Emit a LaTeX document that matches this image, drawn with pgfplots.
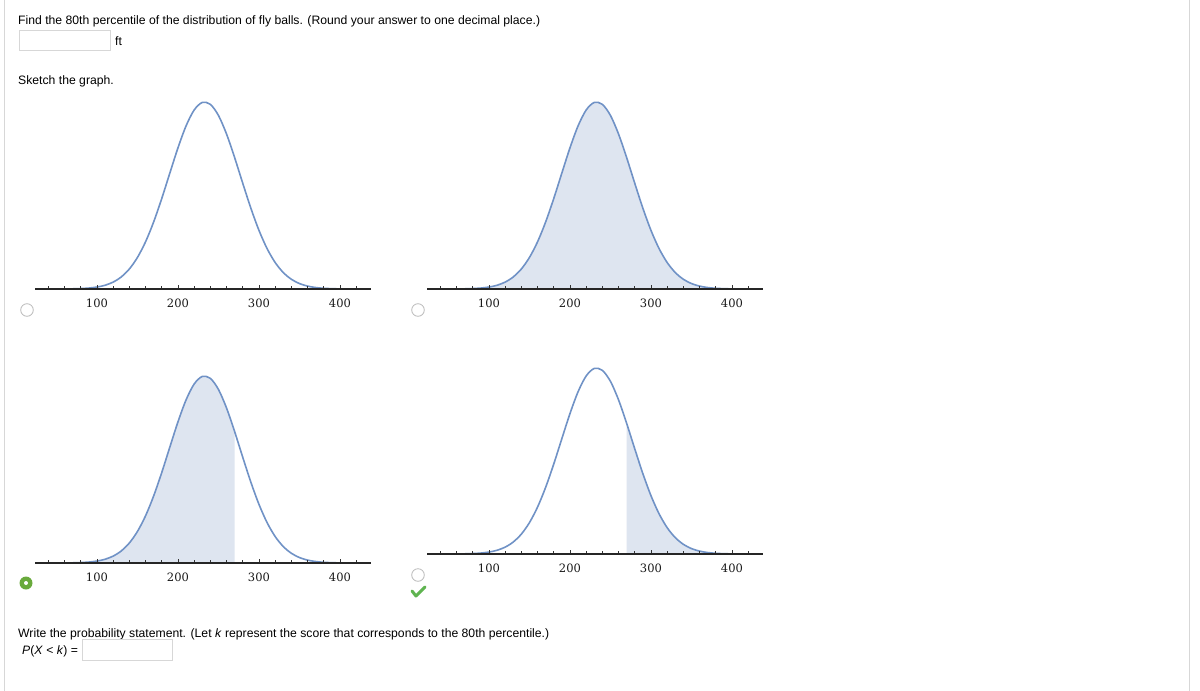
\documentclass[border=0pt]{standalone}
\usepackage{fontspec}
\setmainfont{Liberation Sans}
\newfontfamily\tickfont{DejaVu Serif}
\usepackage{pgfplots}
\usepackage{pgfplotstable}
\pgfplotsset{compat=1.18}
\definecolor{curvec}{RGB}{112,146,198}
\definecolor{fillc}{RGB}{222,229,240}
\definecolor{orangec}{RGB}{200,150,70}
\definecolor{greenc}{RGB}{105,170,60}
\definecolor{checkc}{RGB}{95,180,80}
\definecolor{boxc}{RGB}{215,215,215}
\definecolor{radioc}{RGB}{185,185,185}
\pgfplotstableread{
x y
25 0.00002
30 0.00002
40 0.00007
50 0.00018
60 0.00044
70 0.00105
80 0.00237
90 0.00509
100 0.01038
110 0.02010
120 0.03697
130 0.06457
140 0.10712
150 0.16880
160 0.25256
170 0.35880
180 0.48409
190 0.62035
200 0.75482
210 0.87231
220 0.95729
230 0.99768
240 0.98742
250 0.92808
260 0.82838
270 0.70218
280 0.56524
290 0.43211
300 0.31368
310 0.21627
320 0.14158
330 0.08803
340 0.05197
350 0.02916
360 0.01552
370 0.00785
380 0.00377
390 0.00172
400 0.00074
410 0.00031
420 0.00012
430 0.00004
438 0.00002
}\belldata
\pgfplotsset{bell/.style={
  scale only axis, width=336.15pt, height=187pt,
  xmin=23.5, xmax=438.5, ymin=0, ymax=1,
  axis x line=bottom, axis y line=none, axis on top=true,
  x axis line style={-, line width=1.1pt, color=black!85},
  xtick={100,200,300,400}, minor xtick={40,60,...,420},
  tick align=inside, major tick length=4.5pt, minor tick length=3pt,
  tick style={black!80, line width=0.7pt},
  /pgf/number format/assume math mode=true,
  xticklabel style={font=\tickfont\fontsize{11.5}{12}\selectfont, text=black!90, anchor=base, yshift=-18.3pt},
  clip=false, anchor=south west}}
\begin{document}
\begin{tikzpicture}
\fill[white] (0,0) rectangle (1200pt,-691pt);
\path[use as bounding box] (0,0) rectangle (1200pt,-691pt);
\draw[boxc, line width=1pt] (4.5pt,0) -- (4.5pt,-691pt);
\draw[boxc, line width=1pt] (1189pt,0) -- (1189pt,-691pt);
\begin{scope}[font=\fontsize{12.2}{14}\selectfont]
\node[anchor=base west, inner sep=0] at (18pt,-24.5pt) {Find the 80th percentile of the distribution of fly balls. (Round your answer to one decimal place.)};
\draw[boxc, line width=0.8pt] (19pt,-30pt) rectangle (110pt,-50pt);
\node[anchor=base west, inner sep=0] at (115pt,-45pt) {ft};
\node[anchor=base west, inner sep=0] at (18pt,-84.5pt) {Sketch the graph.};
\node[anchor=base west, inner sep=0] at (18pt,-637.5pt) {Write the probability statement. (Let \textit{k} represent the score that corresponds to the 80th percentile.)};
\node[anchor=base west, inner sep=0] at (22pt,-654.5pt) {\textit{P}(\textit{X} < \textit{k}) =};
\draw[boxc, line width=0.8pt] (82pt,-639pt) rectangle (172pt,-660pt);
\end{scope}
% radio buttons
\draw[radioc, fill=white, line width=0.8pt] (27pt,-310pt) circle (6.3pt);
\draw[radioc, fill=white, line width=0.8pt] (418pt,-310pt) circle (6.3pt);
\fill[greenc] (26pt,-583pt) circle (6.5pt);
\fill[white] (26pt,-583pt) circle (2pt);
\draw[radioc, fill=white, line width=0.8pt] (418pt,-575pt) circle (6.3pt);
\draw[checkc, line width=3pt, line cap=round, line join=round] (412pt,-591pt) -- (416pt,-596pt) -- (425pt,-587pt);
% top-left
\begin{axis}[bell, at={(35pt,-289pt)}]
\addplot[curvec, line width=1.6pt, smooth] table[x=x,y=y]{\belldata};
\end{axis}
% top-right
\begin{axis}[bell, at={(427pt,-289pt)}]
\addplot[draw=none, fill=fillc, smooth] table[x=x,y=y]{\belldata} \closedcycle;
\addplot[orangec, line width=0.8pt, yshift=-0.7pt] coordinates {(30,0) (436,0)};
\addplot[curvec, line width=1.6pt, smooth] table[x=x,y=y]{\belldata};
\end{axis}
% bottom-left
\begin{axis}[bell, at={(35pt,-563pt)}]
\addplot[draw=none, fill=fillc, smooth, restrict x to domain=20:270] table[x=x,y=y]{\belldata} \closedcycle;
\addplot[orangec, line width=0.8pt, yshift=-0.7pt] coordinates {(65,0) (270,0)};
\addplot[curvec, line width=1.6pt, smooth] table[x=x,y=y]{\belldata};
\end{axis}
% bottom-right
\begin{axis}[bell, at={(427pt,-554pt)}, height=186pt]
\addplot[draw=none, fill=fillc, smooth, restrict x to domain=270:440] table[x=x,y=y]{\belldata} \closedcycle;
\addplot[orangec, line width=0.8pt, yshift=-0.7pt] coordinates {(270,0) (436,0)};
\addplot[curvec, line width=1.6pt, smooth] table[x=x,y=y]{\belldata};
\end{axis}
\end{tikzpicture}
\end{document}
